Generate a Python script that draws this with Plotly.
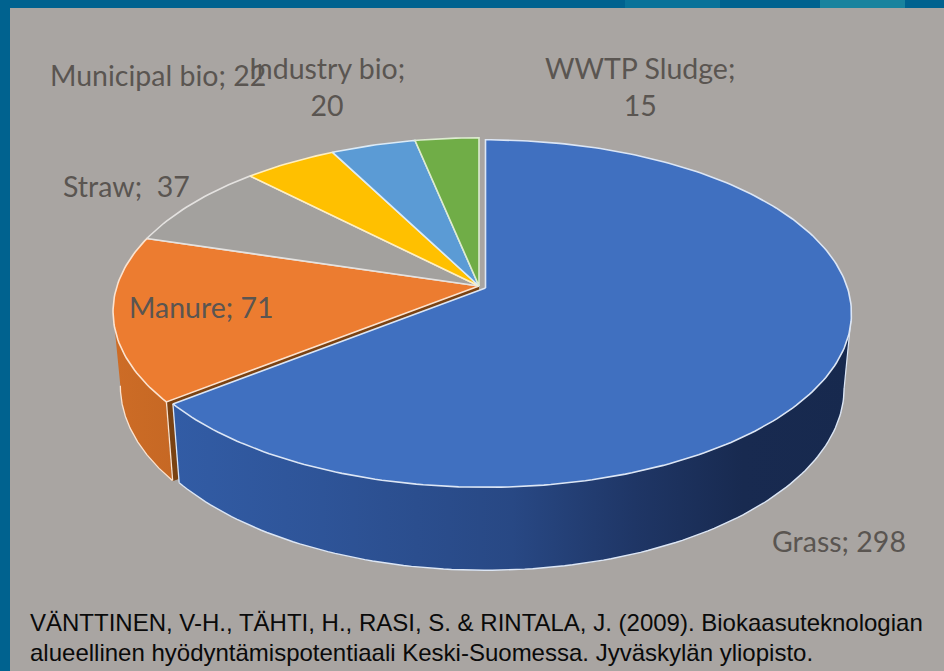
import numpy as np
import plotly.graph_objects as go

labels = ["Grass", "Manure", "Straw", "Municipal bio", "Industry bio", "WWTP Sludge"]
values = [298, 71, 37, 22, 20, 15]
face_colors = ["#4070C0", "#EC7C30", "#A3A19E", "#FFC000", "#5B9BD5", "#70AD47"]
edge_colors = ["#DCE6F5", "#FBE3D0", "#E4E2E0", "#FFEFC0", "#DCEBF7", "#DDEBD0"]
citation = ["VÄNTTINEN, V-H., TÄHTI, H., RASI, S. & RINTALA, J. (2009). Biokaasuteknologian",
            "alueellinen hyödyntämispotentiaali Keski-Suomessa. Jyväskylän yliopisto."]

W, H = 944, 671
BG, FRAME = "#A9A5A2", "#00628F"
A, B, K = 362.0, 170.0, 0.147
SX, SY, DY = 0.98, 1.05, 73.0
BLUE_C, REST_C = (485.5, 288.0), (479.0, 286.0)
TANGENT = np.arccos(-K)


def top(theta, c):
    u, v = np.sin(theta), np.cos(theta)
    d = 1 + K * v
    return c[0] + A * u / d, c[1] - B * v / d


def bottom(theta, c):
    u, v = np.sin(theta), np.cos(theta)
    d = 1 + K * v
    return c[0] + SX * A * u / d, c[1] + DY - SY * B * v / d


def outline(x, y, color, width=1.3):
    return go.Scatter(x=list(x), y=list(y), mode="lines", line=dict(color=color, width=width),
                      hoverinfo="skip", showlegend=False)


def poly(x, y, fill, line=None, width=1.0):
    return go.Scatter(x=list(x), y=list(y), mode="lines", fill="toself", fillcolor=fill,
                      line=dict(color=line or fill, width=width), hoverinfo="skip", showlegend=False)


def side(c, t0, t1, scale):
    ts = np.linspace(t0, t1, 120)
    xt, yt = top(ts, c)
    xb, yb = bottom(ts, c)
    return go.Scatter(x=np.r_[xt, xb[::-1], xt[0]], y=np.r_[yt, yb[::-1], yt[0]], mode="lines",
                      fill="toself", line=dict(width=0),
                      fillgradient=dict(type="horizontal", colorscale=scale),
                      hoverinfo="skip", showlegend=False), xb, yb


BLUE_SCALE = [[0.0, "rgb(50,92,165)"], [0.22, "rgb(46,84,152)"], [0.5, "rgb(40,72,132)"],
              [0.68, "rgb(31,54,102)"], [0.84, "rgb(24,42,80)"], [1.0, "rgb(23,41,78)"]]
ORANGE_SCALE = [[0.0, "rgb(205,108,38)"], [1.0, "rgb(198,104,36)"]]

edges = np.concatenate([[0], np.cumsum(values)]) / sum(values) * 2 * np.pi
fig = go.Figure()

# side of the orange slice, and its cut face exposed by the exploded blue slice
tr, xb, yb = side(REST_C, edges[1], 2 * np.pi - TANGENT, ORANGE_SCALE)
fig.add_trace(tr)
fig.add_trace(outline(xb, yb, edge_colors[1]))
ca, cb = top(edges[1], REST_C), bottom(edges[1], REST_C)
fig.add_trace(poly([REST_C[0], ca[0], cb[0], REST_C[0]],
                   [REST_C[1], ca[1], cb[1], REST_C[1] + DY + 8], "#7A4212"))
fig.add_trace(outline([ca[0], cb[0]], [ca[1], cb[1]], edge_colors[1]))

# side of the blue slice
tr, xb, yb = side(BLUE_C, TANGENT, edges[1], BLUE_SCALE)
fig.add_trace(tr)
fig.add_trace(outline(xb, yb, edge_colors[0], 1.4))
xt0, yt0 = top(TANGENT, BLUE_C)
fig.add_trace(outline([xt0, xb[0]], [yt0, yb[0]], edge_colors[0], 1.2))
ca, cb = top(edges[1], BLUE_C), bottom(edges[1], BLUE_C)
fig.add_trace(outline([ca[0], cb[0]], [ca[1], cb[1]], edge_colors[0]))

# top faces
order = list(range(1, len(values))) + [0]
for i in order:
    c = BLUE_C if i == 0 else REST_C
    th = np.linspace(edges[i], edges[i + 1], max(8, int((edges[i + 1] - edges[i]) * 60)))
    x, y = top(th, c)
    fig.add_trace(poly(np.r_[c[0], x, c[0]], np.r_[c[1], y, c[1]], face_colors[i], edge_colors[i], 1.6))

# data labels (label centre in page pixels)
label_pos = [(839, 541), (201, 307), (126, 186), (158, 75), (327, 86), (640, 86)]
label_text = ["{}; {}".format(labels[0], values[0]),
              "{}; {}".format(labels[1], values[1]),
              "{};  {}".format(labels[2], values[2]),
              "{}; {}".format(labels[3], values[3]),
              "{};<br>{}".format(labels[4], values[4]),
              "{};<br>{}".format(labels[5], values[5])]
annotations = [dict(x=p[0], y=p[1], text=t, xref="x", yref="y", showarrow=False, xanchor="center",
                    yanchor="middle", font=dict(family="Lato", size=28.5, color="#5A5551"))
               for p, t in zip(label_pos, label_text)]
for yy, line in zip((622, 652), citation):
    annotations.append(dict(x=28, y=yy, text=line, xref="x", yref="y", showarrow=False, xanchor="left",
                            yanchor="middle", font=dict(family="Liberation Sans", size=24, color="#0A0A0A")))

fig.update_layout(
    width=W, height=H, margin=dict(l=0, r=0, t=0, b=0), paper_bgcolor=FRAME, plot_bgcolor=FRAME,
    showlegend=False, annotations=annotations,
    xaxis=dict(range=[0, W], visible=False, fixedrange=True),
    yaxis=dict(range=[H, 0], visible=False, fixedrange=True),
    shapes=[dict(type="rect", xref="x", yref="y", x0=10, x1=W, y0=8, y1=H, fillcolor=BG,
                 line=dict(width=0), layer="below"),
            dict(type="rect", xref="x", yref="y", x0=625, x1=720, y0=0, y1=8, fillcolor="#0F7FA3",
                 opacity=0.55, line=dict(width=0), layer="below"),
            dict(type="rect", xref="x", yref="y", x0=820, x1=905, y0=0, y1=8, fillcolor="#2A9AA8",
                 opacity=0.6, line=dict(width=0), layer="below")],
)
fig.write_html("out.html", config={"displayModeBar": False},
               post_script="document.documentElement.style.margin='0';document.body.style.margin='0';document.body.style.overflow='hidden';")
